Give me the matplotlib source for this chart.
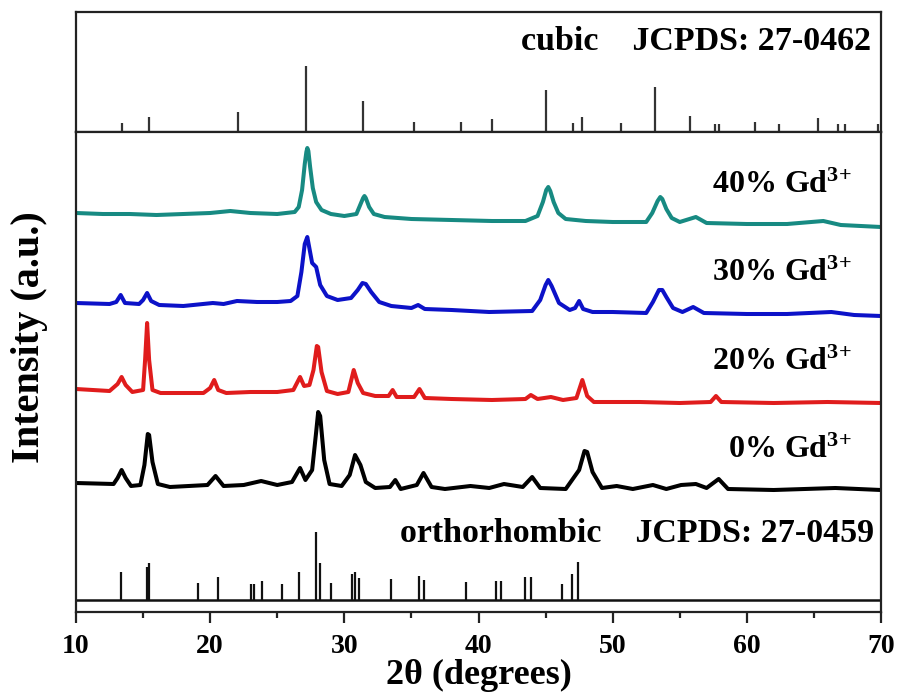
import numpy as np
import matplotlib
matplotlib.use("Agg")
import matplotlib.pyplot as plt
from matplotlib.ticker import MultipleLocator

plt.rcParams['font.family'] = ['Liberation Serif', 'DejaVu Serif']
plt.rcParams['font.weight'] = 'bold'
plt.rcParams['mathtext.fontset'] = 'custom'
plt.rcParams['mathtext.rm'] = 'Liberation Serif:bold'
plt.rcParams['mathtext.bf'] = 'Liberation Serif:bold'
plt.rcParams['mathtext.it'] = 'Liberation Serif:bold'
plt.rcParams['mathtext.default'] = 'bf'

# ---- reference patterns (2theta, relative intensity) ----
cubic_pos = [13.4, 15.45, 22.07, 27.14, 31.4, 35.17, 38.66, 41.0, 45.0, 47.06, 47.74,
             50.6, 53.16, 55.77, 57.63, 57.93, 60.6, 62.4, 65.3, 66.8, 67.3, 69.75]
cubic_int = [14, 23, 30, 100, 47, 15, 15, 20, 64, 14, 23,
             14, 68, 24, 12, 12, 15, 12, 21, 12, 12, 12]

ortho_pos = [13.36, 15.27, 15.45, 19.13, 20.55, 23.06, 23.28, 23.9, 25.37, 26.59, 27.88,
             28.16, 29.03, 30.57, 30.82, 31.07, 33.5, 35.57, 35.92, 39.1, 41.27, 41.69,
             43.46, 43.93, 46.25, 47.0, 47.44]
ortho_int = [41, 49, 54, 25, 34, 24, 24, 28, 24, 41, 100,
             54, 25, 38, 41, 32, 31, 35, 29, 26, 28, 28,
             34, 34, 24, 38, 56]

# ---- measured XRD patterns (stacked, a.u.) ----
x40 = [10, 12, 14, 16, 18, 20, 21.5, 23, 25, 26.3, 26.6, 26.85, 27.05, 27.17, 27.24, 27.32,
       27.45, 27.65, 27.9, 28.3, 29, 30,
       30.9, 31.15, 31.4, 31.5, 31.6, 31.85, 32.2, 33, 35, 38, 41, 43.5, 44.4, 44.8, 45.05,
       45.2, 45.35, 45.6, 45.95, 46.5,
       48, 50, 52.5, 52.95, 53.35, 53.55, 53.7, 54.0, 54.4, 55, 56.2, 57, 60, 63, 65.7, 67, 70]
y40 = [399, 398, 398, 397, 398, 399, 401, 399, 398, 400, 405, 422, 448, 460, 464, 461,
       445, 424, 410, 402, 398, 396,
       398, 406, 414, 416, 414, 405, 398, 395, 393, 392, 391, 391, 396, 410, 422,
       425, 421, 410, 399, 393,
       391, 390, 390, 399, 411, 415, 413, 403, 394, 390, 395, 389, 388, 388, 391, 387, 385]

x30 = [10, 12.5, 13.0, 13.33, 13.65, 14.7, 15.0, 15.3, 15.6, 16.2, 18, 20.2, 21, 22, 23.5, 25,
       26.0, 26.5, 26.8, 27.05, 27.24, 27.42, 27.6, 27.9, 28.2, 28.7, 29.5, 30.5, 31.0, 31.35,
       31.6, 32.0, 32.6,
       33.5, 35.0, 35.5, 36.0, 38, 40.8, 44.0, 44.6, 45.0, 45.2, 45.45, 46.0, 46.8, 47.2, 47.5,
       47.8, 48.5, 50, 52.5, 53.0, 53.45, 53.7, 54.0, 54.5, 55.2, 56.0, 56.8, 60, 63, 66.3, 68, 70]
y30 = [309, 308, 310, 317, 309, 308, 312, 319, 311, 307, 306, 309, 308, 311, 310, 310,
       311, 316, 340, 368, 375, 362, 349, 345, 327, 316, 312, 314, 322, 329,
       328, 320, 310,
       306, 304, 307, 303, 302, 300, 301, 312, 327, 332, 326, 309, 302, 304, 311,
       303, 300, 300, 299, 310, 322, 322, 315, 304, 300, 305, 299, 298, 298, 300, 297, 296]

x20 = [10, 12.5, 13.1, 13.4, 13.7, 14.2, 15.0, 15.15, 15.3, 15.45, 15.7, 16.3, 19.5, 20.0, 20.3,
       20.6, 21.2, 23, 25, 26.2, 26.7, 27.0, 27.4, 27.7, 27.95, 28.05, 28.3, 28.7, 29.5, 30.3,
       30.7, 31.0, 31.4, 32.3, 33.3, 33.6, 33.9, 35.2, 35.6, 36.0, 38, 41, 43.5, 43.9, 44.4,
       45.4, 46.3, 47.3, 47.74, 48.1, 48.6, 52, 55, 57.3, 57.7, 58.1, 62, 66, 70]
y20 = [223, 221, 228, 235, 227, 220, 222, 252, 289, 252, 222, 219, 219, 224, 232,
       222, 219, 220, 220, 222, 235, 226, 227, 242, 266, 265, 240, 221, 218, 220,
       242, 229, 219, 216, 216, 222, 215, 215, 223, 214, 213, 212, 213, 217, 213,
       215, 212, 214, 232, 216, 210, 210, 209, 210, 216, 210, 209, 210, 209]

x0 = [10, 12.8, 13.1, 13.4, 13.7, 14.1, 14.8, 15.1, 15.35, 15.45, 15.7, 16.1, 17, 19.8, 20.4,
      21.0, 22.5, 23.8, 25.0, 26.1, 26.7, 27.1, 27.6, 27.9, 28.05, 28.2, 28.5, 28.9, 29.8,
      30.4, 30.8, 31.2, 31.6, 32.3, 33.4, 33.8, 34.2, 35.4, 35.9, 36.5, 37.5, 39.4, 40.8,
      41.9, 43.3, 44.0, 44.6, 46.5, 47.5, 47.9, 48.1, 48.5, 49.2, 50.3, 51.5, 53.0, 54, 55.1,
      56.2, 57.0, 57.9, 58.6, 62, 66.6, 70]
y0 = [129, 128, 134, 142, 134, 126, 127, 147, 178, 177, 150, 128, 125, 127, 136,
      126, 127, 131, 127, 130, 144, 132, 142, 180, 200, 196, 152, 128, 126,
      137, 157, 147, 130, 124, 125, 132, 123, 127, 139, 125, 123, 126, 124,
      128, 125, 135, 124, 123, 142, 161, 160, 140, 124, 126, 123, 127, 123, 127,
      128, 124, 133, 123, 122, 124, 122]

series = [
    (x40, y40, '#178a82', '40% Gd$^{3{+}}$', 427),
    (x30, y30, '#0c12c8', '30% Gd$^{3{+}}$', 339),
    (x20, y20, '#e01c1c', '20% Gd$^{3{+}}$', 250),
    (x0, y0, '#000000', '0% Gd$^{3{+}}$', 162),
]

W, H = 899, 693
fig = plt.figure(figsize=(W / 100, H / 100), dpi=100)
L, R = 76 / W, 881 / W
top_y0, top_y1 = 1 - 132 / H, 1 - 12 / H
main_y0 = 1 - 612 / H

ax_top = fig.add_axes([L, top_y0, R - L, top_y1 - top_y0])
ax = fig.add_axes([L, main_y0, R - L, top_y0 - main_y0])

spine_c = '#222222'
for a in (ax_top, ax):
    for s in a.spines.values():
        s.set_linewidth(1.6)
        s.set_color(spine_c)
    a.set_xlim(10, 70)
    a.set_yticks([])

# top panel: cubic sticks
ax_top.set_ylim(0, 100 * 120 / 66)
ax_top.vlines(cubic_pos, 0, cubic_int, color='#333333', lw=1.6)
ax_top.set_xticks([])
ax_top.text(69.3, 137, 'cubic    JCPDS: 27-0462', ha='right', va='center',
            fontsize=24.5, fontweight='bold')

# main panel
ax.set_ylim(0, 480)
for xs, ys, c, lab, ly in series:
    ax.plot(xs, ys, color=c, lw=2.9, solid_joinstyle='round')
    ax.text(67.8, ly, lab, ha='right', va='center', fontsize=23, fontweight='bold')

base = 12
ax.axhline(base, color='#111111', lw=1.8)
ax.vlines(ortho_pos, base, base + np.array(ortho_int) * 0.68, color='#111111', lw=1.6)
ax.text(69.5, 79, 'orthorhombic    JCPDS: 27-0459', ha='right', va='center',
        fontsize=24.5, fontweight='bold')

ax.xaxis.set_major_locator(MultipleLocator(10))
ax.xaxis.set_minor_locator(MultipleLocator(5))
ax.tick_params(axis='x', which='major', direction='out', length=8, width=1.6,
               labelsize=20, pad=8, color=spine_c)
ax.tick_params(axis='x', which='minor', direction='out', length=4, width=1.6, color=spine_c)
for t in ax.get_xticklabels():
    t.set_fontweight('bold')
ax.set_xlabel('2θ (degrees)', fontsize=26, fontweight='bold', labelpad=0)

fig.text(30 / W, 1 - 337 / H, 'Intensity (a.u.)', rotation=90, ha='center', va='center',
         fontsize=29, fontweight='bold')

fig.savefig('out.png', dpi=100)
